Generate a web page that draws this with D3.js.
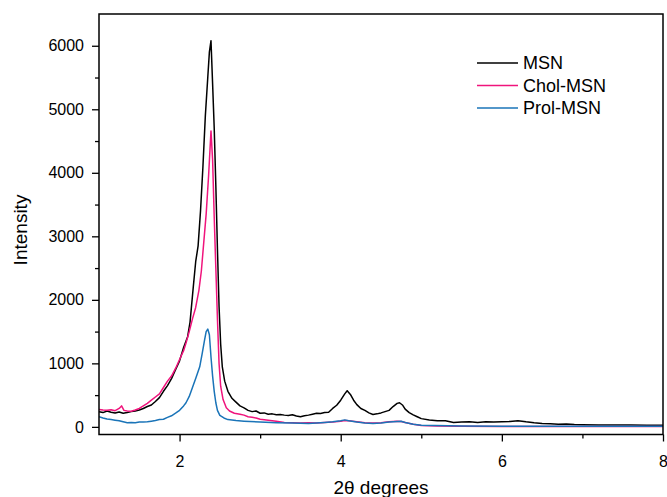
<!DOCTYPE html>
<html>
<head>
<meta charset="utf-8">
<script src="https://cdn.jsdelivr.net/npm/d3@7"></script>
<style>
	body { margin: 0; background: #fff; }
	svg { display: block; font-family: "Liberation Sans", Arial, sans-serif; }
</style>
</head>
<body>
<div id="container"></div>
<script>
// [2theta, intensity]
const msn = [
	[1.00, 240], [1.05, 225], [1.10, 250], [1.15, 230], [1.20, 220], [1.25, 235], [1.30, 215],
	[1.35, 225], [1.40, 240], [1.45, 250], [1.50, 265], [1.55, 290], [1.60, 320], [1.65, 345],
	[1.70, 400], [1.75, 460], [1.80, 560], [1.85, 650], [1.90, 760], [1.95, 900], [2.00, 1040],
	[2.05, 1250], [2.10, 1420], [2.13, 1650], [2.17, 2200], [2.20, 2600], [2.23, 2850], [2.26, 3400],
	[2.29, 4100], [2.32, 4900], [2.35, 5500], [2.37, 5900], [2.39, 6080], [2.41, 5400], [2.43, 4700],
	[2.45, 3800], [2.47, 2800], [2.49, 1900], [2.51, 1300], [2.53, 950], [2.56, 720], [2.60, 560],
	[2.65, 450], [2.70, 390], [2.75, 330], [2.80, 300], [2.85, 260], [2.90, 240], [2.95, 250],
	[3.00, 215], [3.05, 220], [3.10, 200], [3.15, 205], [3.20, 190], [3.25, 195], [3.30, 185],
	[3.35, 180], [3.40, 190], [3.45, 170], [3.50, 160], [3.55, 175], [3.60, 185], [3.65, 200],
	[3.70, 215], [3.75, 210], [3.80, 225], [3.85, 230], [3.90, 290], [3.95, 340], [4.00, 420],
	[4.05, 520], [4.08, 570], [4.12, 510], [4.16, 420], [4.20, 350], [4.25, 290], [4.30, 260],
	[4.35, 220], [4.40, 195], [4.45, 205], [4.50, 220], [4.55, 240], [4.60, 260], [4.65, 320],
	[4.70, 370], [4.73, 380], [4.77, 340], [4.80, 280], [4.85, 225], [4.90, 190], [4.95, 160],
	[5.00, 130], [5.10, 110], [5.20, 95], [5.30, 95], [5.40, 70], [5.50, 75], [5.60, 80],
	[5.70, 70], [5.80, 80], [5.90, 75], [6.00, 80], [6.10, 85], [6.20, 95], [6.25, 90],
	[6.30, 80], [6.40, 65], [6.50, 55], [6.60, 50], [6.70, 40], [6.80, 45], [6.90, 38],
	[7.00, 35], [7.20, 30], [7.40, 28], [7.60, 30], [7.80, 25], [8.00, 25]
];

const cholMsn = [
	[1.00, 275], [1.05, 265], [1.10, 260], [1.15, 270], [1.20, 255], [1.25, 290], [1.28, 330],
	[1.31, 260], [1.35, 250], [1.40, 245], [1.45, 265], [1.50, 290], [1.55, 330], [1.60, 370],
	[1.65, 420], [1.70, 470], [1.75, 520], [1.80, 620], [1.85, 720], [1.90, 800], [1.95, 920],
	[2.00, 1060], [2.05, 1200], [2.08, 1320], [2.12, 1500], [2.16, 1700], [2.20, 1880], [2.24, 2150],
	[2.27, 2450], [2.30, 2900], [2.33, 3350], [2.36, 3950], [2.39, 4660], [2.41, 4200], [2.43, 3300],
	[2.45, 2500], [2.47, 1700], [2.49, 1000], [2.51, 640], [2.54, 430], [2.58, 300], [2.62, 250],
	[2.68, 215], [2.75, 200], [2.80, 185], [2.85, 160], [2.90, 150], [2.95, 140], [3.00, 120],
	[3.10, 105], [3.20, 90], [3.30, 70], [3.40, 65], [3.50, 60], [3.60, 65], [3.70, 60],
	[3.80, 70], [3.90, 75], [4.00, 90], [4.05, 100], [4.10, 95], [4.20, 80], [4.30, 65],
	[4.40, 60], [4.50, 65], [4.60, 80], [4.70, 90], [4.75, 85], [4.80, 70], [4.90, 40],
	[5.00, 20], [5.20, 15], [5.50, 10], [6.00, 5], [6.50, 5], [7.00, 5], [7.50, 5], [8.00, 5]
];

const prolMsn = [
	[1.00, 160], [1.05, 140], [1.10, 125], [1.15, 115], [1.20, 105], [1.25, 95], [1.30, 80],
	[1.35, 65], [1.40, 70], [1.45, 65], [1.50, 75], [1.55, 75], [1.60, 80], [1.65, 90],
	[1.70, 100], [1.75, 115], [1.80, 120], [1.85, 150], [1.90, 175], [1.95, 215], [2.00, 260],
	[2.05, 330], [2.08, 380], [2.12, 480], [2.16, 620], [2.20, 760], [2.25, 945], [2.28, 1150],
	[2.31, 1365], [2.33, 1500], [2.35, 1540], [2.37, 1450], [2.39, 1100], [2.41, 800], [2.43, 560],
	[2.45, 380], [2.47, 260], [2.50, 180], [2.55, 140], [2.60, 115], [2.70, 100], [2.80, 90],
	[3.00, 75], [3.20, 65], [3.40, 60], [3.60, 55], [3.80, 70], [3.90, 80], [4.00, 95],
	[4.05, 110], [4.10, 95], [4.20, 75], [4.30, 60], [4.40, 55], [4.50, 60], [4.60, 75],
	[4.70, 85], [4.75, 90], [4.80, 70], [4.90, 40], [5.00, 25], [5.50, 15], [6.00, 10],
	[6.50, 10], [7.00, 10], [7.50, 10], [8.00, 10]
];

const seriesNames = ["MSN", "Chol-MSN", "Prol-MSN"];
const seriesColors = ["#000000", "#f0147c", "#1a74b8"];

const xMajorTicks = [2, 4, 6, 8];
const xMinorTicks = [3, 5, 7];
const yMajorTicks = [0, 1000, 2000, 3000, 4000, 5000, 6000];
const yMinorTicks = [500, 1500, 2500, 3500, 4500, 5500];

window.addEventListener("load", () => drawChart());

function drawChart() {
	const width = 667;
	const height = 497;
	const margin = { top: 14, right: 4, bottom: 62.5, left: 99 };

	const svg = d3
		.select("#container")
		.append("svg")
		.attr("width", width)
		.attr("height", height);

	const x = d3.scaleLinear().domain([1, 8]).range([margin.left, width - margin.right]);
	const y = d3.scaleLinear().domain([-120, 6500]).range([height - margin.bottom, margin.top]);

	const lineGen = d3
		.line()
		.x((d) => x(d[0]))
		.y((d) => y(d[1]));

	svg.append("clipPath")
		.attr("id", "plot-clip")
		.append("rect")
		.attr("x", margin.left)
		.attr("y", margin.top)
		.attr("width", width - margin.left - margin.right)
		.attr("height", height - margin.top - margin.bottom);

	const curves = svg.append("g").attr("clip-path", "url(#plot-clip)");
	[msn, cholMsn, prolMsn].forEach((s, i) => {
		curves
			.append("path")
			.attr("d", lineGen(s))
			.attr("fill", "none")
			.attr("stroke", seriesColors[i])
			.attr("stroke-width", 1.5)
			.attr("stroke-linejoin", "round");
	});

	// axes
	const fmt = d3.format("d");
	const xAxis = d3.axisBottom(x).tickValues(xMajorTicks).tickFormat(fmt).tickSize(7).tickPadding(14).tickSizeOuter(0);
	const xMinor = d3.axisBottom(x).tickValues(xMinorTicks).tickSize(4).tickFormat("").tickSizeOuter(0);
	const yAxis = d3.axisLeft(y).tickValues(yMajorTicks).tickFormat(fmt).tickSize(7).tickPadding(8).tickSizeOuter(0);
	const yMinor = d3.axisLeft(y).tickValues(yMinorTicks).tickSize(4).tickFormat("").tickSizeOuter(0);

	const bottom = height - margin.bottom;
	[xAxis, xMinor].forEach((ax) => {
		svg.append("g").attr("class", "axis").attr("transform", `translate(0, ${bottom})`).call(ax);
	});
	[yAxis, yMinor].forEach((ax) => {
		svg.append("g").attr("class", "axis").attr("transform", `translate(${margin.left}, 0)`).call(ax);
	});
	svg.selectAll(".axis .domain").remove();
	svg.selectAll(".axis line").attr("stroke", "#000").attr("stroke-width", 1.3);
	svg.selectAll(".axis text")
		.attr("fill", "#000")
		.style("font-size", "16px")
		.style("font-family", '"Liberation Sans", Arial, sans-serif');

	// frame
	svg.append("rect")
		.attr("x", margin.left)
		.attr("y", margin.top)
		.attr("width", width - margin.left - margin.right)
		.attr("height", bottom - margin.top)
		.attr("fill", "none")
		.attr("stroke", "#000")
		.attr("stroke-width", 1.5);

	// axis titles
	svg.append("text")
		.attr("x", (margin.left + width - margin.right) / 2)
		.attr("y", 494)
		.attr("text-anchor", "middle")
		.style("font-size", "19px")
		.text("2θ degrees");

	svg.append("text")
		.attr("transform", `translate(27, 230) rotate(-90)`)
		.attr("text-anchor", "middle")
		.style("font-size", "19px")
		.text("Intensity");

	// legend
	const legend = svg.append("g").attr("transform", "translate(477, 63)");
	seriesNames.forEach((name, i) => {
		const row = legend.append("g").attr("transform", `translate(0, ${i * 22.5})`);
		row.append("line")
			.attr("x1", 0)
			.attr("x2", 41)
			.attr("stroke", seriesColors[i])
			.attr("stroke-width", 1.5);
		row.append("text")
			.attr("x", 46)
			.attr("dy", "0.35em")
			.style("font-size", "18px")
			.text(name);
	});
}
</script>
</body>
</html>
